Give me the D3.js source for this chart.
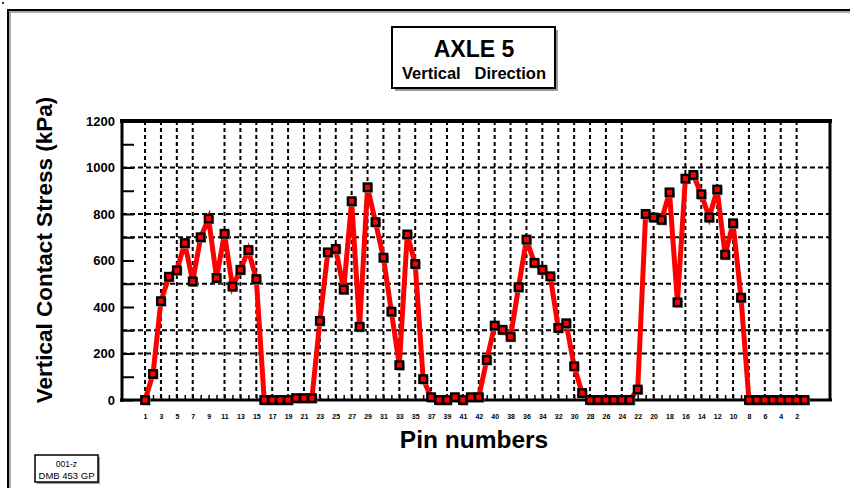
<!DOCTYPE html>
<html><head><meta charset="utf-8">
<script src="https://cdn.jsdelivr.net/npm/d3@7"></script>
<style>
html,body{margin:0;padding:0;background:#fff;}
svg{display:block;font-family:"Liberation Sans",Arial,sans-serif;}
</style></head>
<body><svg id="c" width="850" height="488"></svg>
<script>
// ---- data ----
const pinLabels = [1,3,5,7,9,11,13,15,17,19,21,23,25,27,29,31,33,35,37,39,41,
                   42,40,38,36,34,32,30,28,26,24,22,20,18,16,14,12,10,8,6,4,2];
const stress = [
  0,112,425,530,558,675,510,700,780,525,715,488,560,645,520,
  0,0,0,0,8,8,8,340,635,650,475,855,315,915,765,612,380,150,712,585,90,
  12,0,0,12,0,12,12,172,320,302,272,485,690,590,560,532,310,330,145,30,
  0,0,0,0,0,0,45,800,785,775,893,420,952,968,885,785,905,625,760,440,
  0,0,0,0,0,0,0,0];
const yTicks = [0,200,400,600,800,1000,1200];
const yMinor = [100,300,500,700,900,1100];
const hGrid = [200,300,500,700,800,1000];
const vGridSkip = [9,22,18];

// ---- drawing ----
const svg = d3.select("#c");
const L=122, R=830, T=121, B=400;
const x = d3.scaleLinear().domain([-2.9, 86.2]).range([L, R]);
const y = d3.scaleLinear().domain([0, 1200]).range([B, T]);

svg.append("rect").attr("x",2).attr("y",2).attr("width",2).attr("height",2).attr("fill","#333");
svg.append("path").attr("d","M9,488 V11 H850").attr("fill","none").attr("stroke","#aaa").attr("stroke-width",2).attr("transform","translate(1,1)");
svg.append("path").attr("d","M8,488 V10 H850").attr("fill","none").attr("stroke","#000").attr("stroke-width",2);

const g = svg.append("g");
g.selectAll(".hg").data(hGrid).join("line")
  .attr("x1",L).attr("x2",R).attr("y1",d=>y(d)).attr("y2",d=>y(d))
  .attr("stroke","#000").attr("stroke-width",2).attr("stroke-dasharray","5,3");

const labelIdx = pinLabels.map((p,k)=>({p, i:2*k}));
g.selectAll(".vg").data(labelIdx.filter(d=>!vGridSkip.includes(d.p))).join("line")
  .attr("x1",d=>x(d.i)).attr("x2",d=>x(d.i)).attr("y1",T).attr("y2",B)
  .attr("stroke","#000").attr("stroke-width",2).attr("stroke-dasharray","4,3");

const yAxis = d3.axisLeft(y).tickValues(yTicks).tickSize(-12).tickPadding(7).tickFormat(d3.format("d"));
const ya = svg.append("g").attr("transform",`translate(${L},0)`).call(yAxis);
ya.select(".domain").remove();
ya.selectAll(".tick line").attr("stroke","#000").attr("stroke-width",2);
ya.selectAll(".tick text").attr("font-size",13).attr("font-weight","bold").attr("fill","#000")
  .attr("font-family","Liberation Sans, Arial, sans-serif");
const ym = d3.axisLeft(y).tickValues(yMinor).tickSize(-12).tickFormat("");
const yb = svg.append("g").attr("transform",`translate(${L},0)`).call(ym);
yb.select(".domain").remove();
yb.selectAll(".tick line").attr("stroke","#000").attr("stroke-width",2);

const idx = d3.range(stress.length);
const xAxis = d3.axisBottom(x).tickValues(idx).tickSize(-5).tickPadding(14)
  .tickFormat(i => i%2===0 ? pinLabels[i/2] : "");
const xa = svg.append("g").attr("transform",`translate(0,${B})`).call(xAxis);
xa.select(".domain").remove();
xa.selectAll(".tick line").attr("stroke","#000").attr("stroke-width",1.5);
xa.selectAll(".tick text").attr("font-size",7).attr("font-weight","bold").attr("fill","#000")
  .attr("font-family","Liberation Sans, Arial, sans-serif");

svg.append("line").attr("x1",L-2).attr("x2",R+2).attr("y1",T).attr("y2",T).attr("stroke","#000").attr("stroke-width",4);
svg.append("line").attr("x1",L).attr("x2",L).attr("y1",T).attr("y2",B+2).attr("stroke","#000").attr("stroke-width",3);
svg.append("line").attr("x1",L-2).attr("x2",R+2).attr("y1",B).attr("y2",B).attr("stroke","#000").attr("stroke-width",3);
svg.append("line").attr("x1",R).attr("x2",R).attr("y1",T).attr("y2",B).attr("stroke","#000").attr("stroke-width",3);

const line = d3.line().x((d,i)=>x(i)).y(d=>y(d));
svg.append("path").datum(stress).attr("d",line).attr("fill","none")
  .attr("stroke","#ff0000").attr("stroke-width",5).attr("stroke-linejoin","miter");

const mk = svg.append("g");
mk.selectAll(".sh").data(stress).join("rect")
  .attr("x",(d,i)=>x(i)-3).attr("y",d=>y(d)-3).attr("width",8.5).attr("height",8.5).attr("fill","#888");
mk.selectAll(".m").data(stress).join("rect")
  .attr("x",(d,i)=>x(i)-3.75).attr("y",d=>y(d)-3.75).attr("width",7.5).attr("height",7.5)
  .attr("fill","#ff0000").attr("stroke","#000").attr("stroke-width",2.4);

svg.append("text").attr("transform","translate(52,250) rotate(-90)").attr("text-anchor","middle")
  .attr("font-size",22.5).attr("font-weight","bold").text("Vertical Contact Stress (kPa)");
svg.append("text").attr("x",474).attr("y",448).attr("text-anchor","middle")
  .attr("font-size",24.5).attr("font-weight","bold").text("Pin numbers");

svg.append("rect").attr("x",395).attr("y",30).attr("width",163).attr("height",61).attr("fill","#999");
svg.append("rect").attr("x",392).attr("y",27).attr("width",163).attr("height",61).attr("fill","#fff").attr("stroke","#000").attr("stroke-width",2);
svg.append("text").attr("x",474).attr("y",57).attr("text-anchor","middle").attr("font-size",23).attr("font-weight","bold").text("AXLE 5");
svg.append("text").attr("x",474).attr("y",79).attr("text-anchor","middle").attr("font-size",16.5).attr("font-weight","bold")
  .attr("xml:space","preserve").style("white-space","pre").text("Vertical   Direction");

svg.append("rect").attr("x",37).attr("y",457).attr("width",63).attr("height",27).attr("fill","#999");
svg.append("rect").attr("x",35).attr("y",455).attr("width",63).attr("height",27).attr("fill","#fff").attr("stroke","#000").attr("stroke-width",1.5);
svg.append("text").attr("x",66.5).attr("y",467).attr("text-anchor","middle").attr("font-size",8.5).text("001-z");
svg.append("text").attr("x",66.5).attr("y",479).attr("text-anchor","middle").attr("font-size",9.5).text("DMB 453 GP");
</script></body></html>
